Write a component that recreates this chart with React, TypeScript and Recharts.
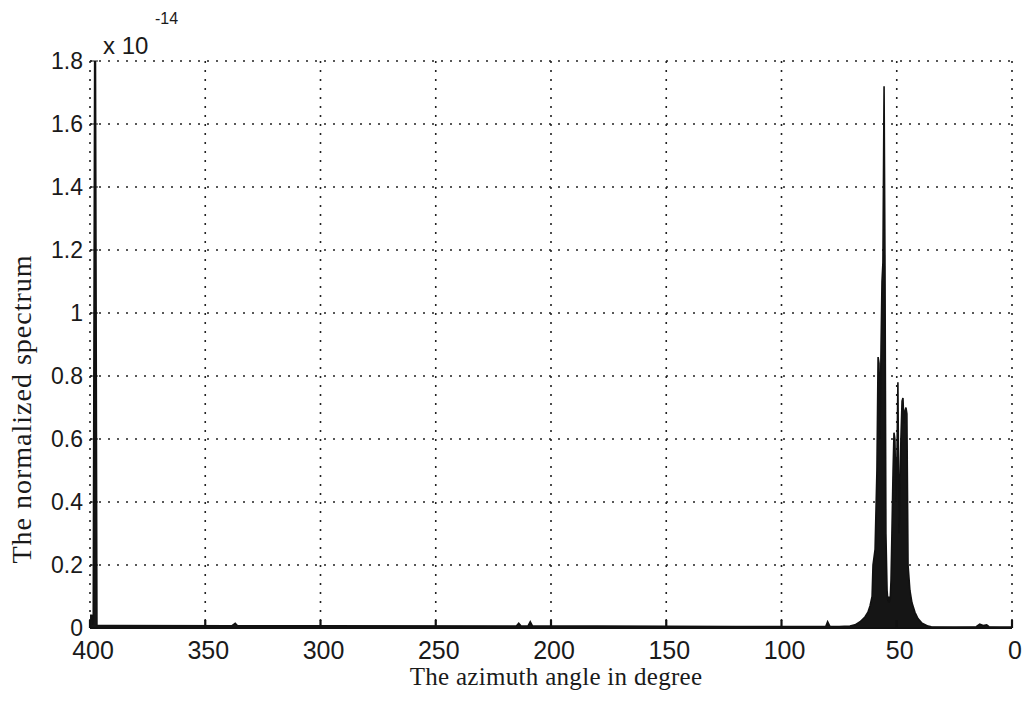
import React from 'react';
import { AreaChart, Area, XAxis, YAxis, CartesianGrid } from 'recharts';

// azimuth angle (degree) and normalized spectrum (x 1e-14)
const angles = [
  0, 5, 10, 11, 12.5, 14, 15.5, 25, 35, 36.4, 39, 40.8, 42.1, 43.4, 44.3, 45.1,
  45.6, 46.0, 46.4, 46.9, 47.3, 47.7, 48.2, 48.6, 49.0, 49.5, 49.9, 50.3, 50.8,
  51.2, 51.6, 52.1, 52.5, 52.9, 53.4, 53.8, 54.2, 54.7, 55.1, 55.5, 56.0, 56.4,
  56.8, 57.3, 57.7, 58.1, 58.6, 59.4, 60.3, 60.7, 61.6, 62.5, 63.8, 65.9, 68.1,
  70.3, 75, 79, 80, 80.8, 120, 180, 208, 209, 210, 213, 214, 215, 300, 336, 337,
  338.5, 390, 397, 397.8, 398.6, 399.3, 400,
];
const spectrum = [
  0.003, 0.003, 0.004, 0.01, 0.008, 0.012, 0.004, 0.003, 0.004, 0.006, 0.015, 0.03,
  0.05, 0.08, 0.12, 0.2, 0.68, 0.7, 0.69, 0.65, 0.73, 0.72, 0.6, 0.45, 0.3, 0.78,
  0.55, 0.4, 0.6, 0.62, 0.5, 0.3, 0.15, 0.08, 0.1, 0.08, 0.12, 0.3, 1.15, 1.72,
  1.16, 1.1, 0.9, 0.6, 0.84, 0.86, 0.5, 0.25, 0.2, 0.1, 0.07, 0.05, 0.035, 0.02,
  0.01, 0.006, 0.005, 0.005, 0.02, 0.005, 0.005, 0.006, 0.006, 0.02, 0.006, 0.006,
  0.015, 0.006, 0.007, 0.007, 0.015, 0.007, 0.008, 0.008, 2.3, 0.01, 0.04, 0.04,
];

const xTicks = [0, 50, 100, 150, 200, 250, 300, 350, 400];
const yTicks = [0, 0.2, 0.4, 0.6, 0.8, 1, 1.2, 1.4, 1.6, 1.8];

const data = angles.map((a, i) => ({ angle: a, value: spectrum[i] }));

const sans = 'Liberation Sans, Arial, sans-serif';
const serif = 'Liberation Serif, Times New Roman, serif';
const ink = '#1a1a1a';

export default function App() {
  return (
    <div style={{ position: 'absolute', left: 0, top: 0, width: 1023, height: 704, background: '#fff' }}>
      <AreaChart width={1023} height={704} data={data} margin={{ top: 61, right: 11, bottom: 36, left: 30 }}>
        <CartesianGrid stroke="#222" strokeWidth={1.6} strokeDasharray="2 7" />
        <XAxis
          type="number"
          dataKey="angle"
          domain={[0, 400]}
          ticks={xTicks}
          reversed
          interval={0}
          height={40}
          stroke="#111"
          strokeWidth={2.2}
          tickSize={-8}
          tickMargin={21}
          tick={{ fill: ink, fontSize: 25, fontFamily: sans, dx: 3 }}
        />
        <YAxis
          type="number"
          domain={[0, 1.8]}
          ticks={yTicks}
          allowDataOverflow
          interval={0}
          width={60}
          axisLine={false}
          stroke="#111"
          tickSize={-8}
          tickMargin={15}
          tick={{ fill: ink, fontSize: 23, fontFamily: sans }}
          tickFormatter={(v: number) => (v === 0 || v === 1 ? String(v) : v.toFixed(1))}
        />
        <Area
          type="linear"
          dataKey="value"
          stroke="#111"
          strokeWidth={1.6}
          fill="#151515"
          fillOpacity={1}
          isAnimationActive={false}
        />
      </AreaChart>
      <div style={{ position: 'absolute', left: 103, top: 32, fontSize: 24, fontFamily: sans, color: ink }}>
        x 10
      </div>
      <div style={{ position: 'absolute', left: 155, top: 10, fontSize: 16, fontFamily: sans, color: ink }}>
        -14
      </div>
      <div
        style={{
          position: 'absolute',
          left: 556,
          top: 664,
          transform: 'translateX(-50%)',
          fontSize: 25,
          lineHeight: '25px',
          letterSpacing: 0.3,
          fontFamily: serif,
          color: ink,
          whiteSpace: 'nowrap',
        }}
      >
        The azimuth angle in degree
      </div>
      <div
        style={{
          position: 'absolute',
          left: 22,
          top: 409,
          transform: 'translate(-50%, -50%) rotate(-90deg)',
          fontSize: 28,
          letterSpacing: 1,
          fontFamily: serif,
          color: ink,
          whiteSpace: 'nowrap',
        }}
      >
        The normalized spectrum
      </div>
    </div>
  );
}
